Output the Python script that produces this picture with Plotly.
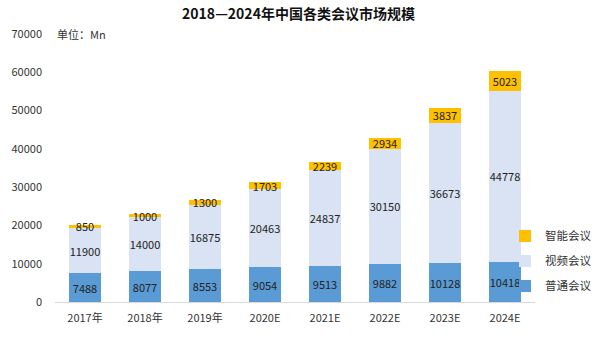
import plotly.graph_objects as go

years = ["2017年", "2018年", "2019年", "2020E", "2021E", "2022E", "2023E", "2024E"]
normal = [7488, 8077, 8553, 9054, 9513, 9882, 10128, 10418]
video = [11900, 14000, 16875, 20463, 24837, 30150, 36673, 44778]
smart = [850, 1000, 1300, 1703, 2239, 2934, 3837, 5023]
y_ticks = [0, 10000, 20000, 30000, 40000, 50000, 60000, 70000]

font_family = "Microsoft YaHei, Noto Sans CJK SC, sans-serif"
label_font = dict(family=font_family, size=11, color="#222222")

fig = go.Figure()
for rank, (name, vals, color) in enumerate([
    ("普通会议", normal, "#5b9bd5"),
    ("视频会议", video, "#dae3f3"),
    ("智能会议", smart, "#ffc000"),
]):
    fig.add_trace(go.Bar(
        x=years, y=vals, name=name, legendgroup=name, legendrank=1000 - rank,
        marker=dict(color=color, line=dict(width=0)),
        text=[str(v) for v in vals], textposition="inside", insidetextanchor="middle",
        constraintext="none", textfont=label_font, textangle=0,
        hoverinfo="skip",
    ))

plot_w = 597 - 55
fig.update_layout(
    barmode="stack",
    bargap=0.47,
    width=597, height=338,
    margin=dict(l=55, r=0, t=34, b=36),
    paper_bgcolor="white", plot_bgcolor="white",
    title=dict(text="<b>2018—2024年中国各类会议市场规模</b>", x=0.5, xanchor="center",
               y=0.958, yref="container", yanchor="middle",
               font=dict(family=font_family, size=14, color="#111111")),
    font=dict(family=font_family, size=11, color="#333333"),
    legend=dict(x=(505 - 55) / plot_w, xanchor="left", y=0.153, yanchor="middle",
                traceorder="grouped", tracegroupgap=6,
                font=dict(size=11.5, color="#333333"), itemwidth=30, bgcolor="rgba(0,0,0,0)"),
    showlegend=True,
)
fig.update_yaxes(range=[0, 70000], tickvals=y_ticks, ticktext=[str(v) for v in y_ticks],
                 showgrid=False, zeroline=False, showline=False, ticks="",
                 ticklabelstandoff=12, tickfont=dict(size=11, color="#333333"))
fig.update_xaxes(domain=[0, 480 / plot_w], showline=True, linecolor="#d9d9d9", linewidth=1,
                 ticks="", tickfont=dict(size=11, color="#333333"), ticklabelstandoff=6)
fig.add_annotation(text="单位：Mn", xref="paper", yref="paper", x=0.0, y=1.0,
                   xanchor="left", yanchor="middle", showarrow=False,
                   font=dict(size=11, color="#333333"))
fig.write_html("out.html")
